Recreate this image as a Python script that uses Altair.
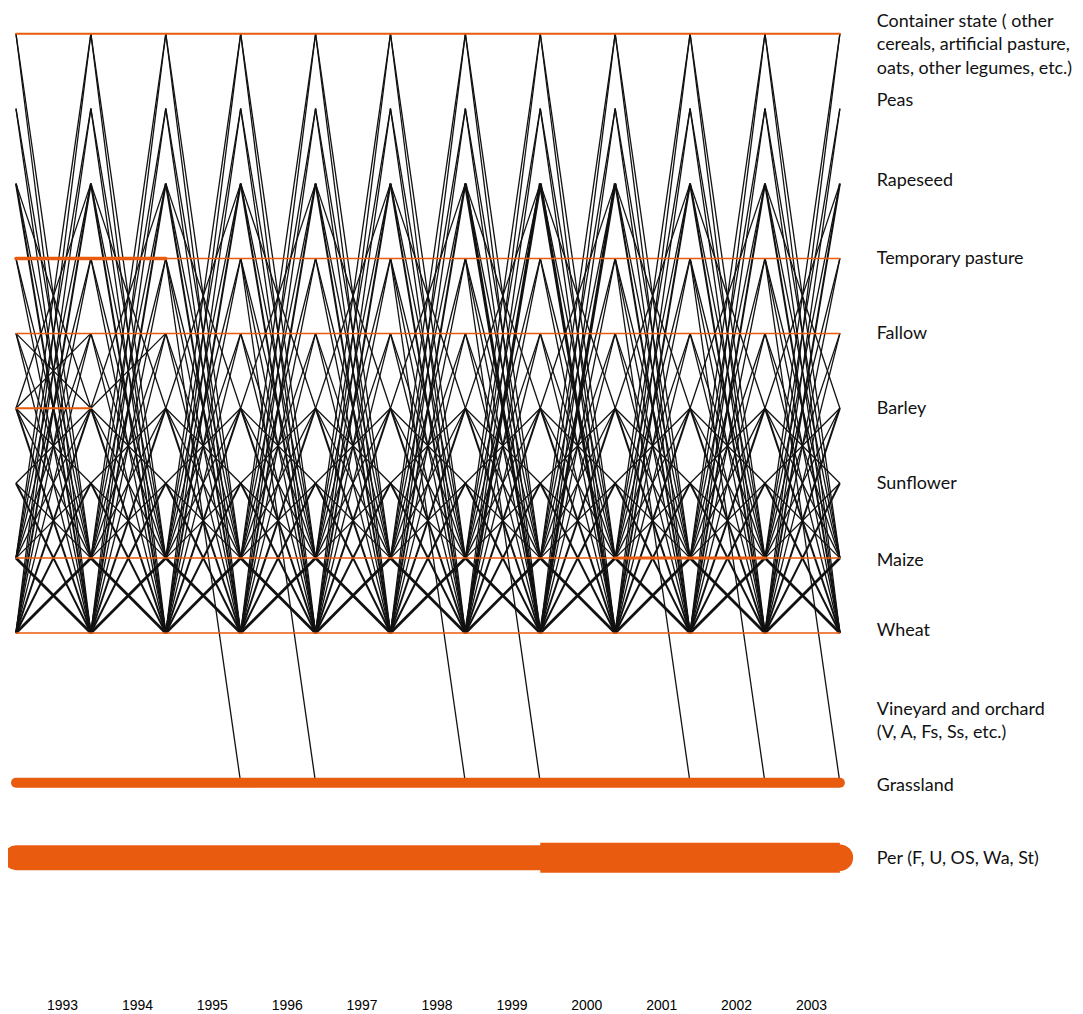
import altair as alt
import pandas as pd

# ---------------- data ----------------
years = list(range(1992, 2004))

states = ["Container", "Peas", "Rapeseed", "TempPasture", "Fallow", "Barley",
          "Sunflower", "Maize", "Wheat", "Vineyard", "Grassland", "Per"]
state_labels = [
    "Container state ( other\ncereals, artificial pasture,\noats, other legumes, etc.)",
    "Peas", "Rapeseed", "Temporary pasture", "Fallow", "Barley", "Sunflower",
    "Maize", "Wheat", "Vineyard and orchard\n(V, A, Fs, Ss, etc.)", "Grassland",
    "Per (F, U, OS, Wa, St)",
]

# transitions seen between every pair of consecutive years (from, to, weight)
gen_from = ["Wheat", "Maize", "Container", "Container",
            "Wheat", "Maize", "Peas", "Peas",
            "Wheat", "Maize", "Barley", "Rapeseed", "Rapeseed", "Rapeseed",
            "Wheat", "Maize", "TempPasture", "TempPasture",
            "Wheat", "Maize", "Fallow", "Fallow",
            "Wheat", "Maize", "Sunflower", "Barley", "Barley", "Barley",
            "Wheat", "Maize", "Sunflower", "Sunflower",
            "Wheat", "Maize"]
gen_to = ["Container", "Container", "Wheat", "Maize",
          "Peas", "Peas", "Wheat", "Maize",
          "Rapeseed", "Rapeseed", "Rapeseed", "Wheat", "Barley", "Maize",
          "TempPasture", "TempPasture", "Wheat", "Maize",
          "Fallow", "Fallow", "Wheat", "Maize",
          "Barley", "Barley", "Barley", "Wheat", "Maize", "Sunflower",
          "Sunflower", "Sunflower", "Wheat", "Maize",
          "Maize", "Wheat"]
gen_w = [1.3, 1.3, 1.3, 1.3,
         1.3, 1.3, 1.3, 1.3,
         2, 1.3, 1.3, 2, 1.3, 1.3,
         1.3, 1.3, 1.3, 1.3,
         1.3, 1.3, 1.3, 1.3,
         2, 1.3, 1.3, 2, 1.3, 1.3,
         2, 1.3, 2, 1.3,
         2.8, 2.8]

# rapeseed <-> wheat weight per interval (starting year 1992 ... 2002)
rape_w = [2, 2, 2, 2, 2, 2, 3, 3, 2, 2, 2]

# temporary pasture -> grassland, year of arrival
tp_grass_years = [1995, 1996, 1998, 1999, 2001, 2002, 2003]

# extra transitions (start year, from, to)
extra_year = [1992, 1993, 1992]
extra_from = ["Barley", "Barley", "Fallow"]
extra_to = ["Fallow", "Fallow", "Barley"]

# same state kept (orange): state, start year, end year, weight
stay_state = ["Container", "TempPasture", "TempPasture", "Fallow", "Barley",
              "Maize", "Maize", "Maize", "Wheat", "Grassland", "Per"]
stay_start = [1992, 1992, 1994, 1992, 1992, 1992, 2000, 2002, 1992, 1992, 1992]
stay_end = [2003, 1994, 2003, 2003, 1993, 2000, 2002, 2003, 2003, 2003, 2003]
stay_w = [2, 3.5, 1.5, 1.5, 2, 1.5, 3, 1.5, 1.5, 10, 25]
per_thick_start, per_thick_end, per_thick_w = 1999, 2003, 30

# ---------------- build tables ----------------
idx = {s: i for i, s in enumerate(states)}

rows = []
k = 0


def add(y0, a, b, w):
    global k
    rows.append({"id": k, "year": y0, "s": idx[a], "w": w})
    rows.append({"id": k, "year": y0 + 1, "s": idx[b], "w": w})
    k += 1


for i, y0 in enumerate(years[:-1]):
    for a, b, w in zip(gen_from, gen_to, gen_w):
        if {a, b} == {"Rapeseed", "Wheat"}:
            w = rape_w[i]
        add(y0, a, b, w)
for y1 in tp_grass_years:
    add(y1 - 1, "TempPasture", "Grassland", 1.3)
for y0, a, b in zip(extra_year, extra_from, extra_to):
    add(y0, a, b, 1.3)
trans = pd.DataFrame(rows)

srows = []
for j, (s, a, b, w) in enumerate(zip(stay_state, stay_start, stay_end, stay_w)):
    srows.append({"id": j, "year": a, "s": idx[s], "w": w})
    srows.append({"id": j, "year": b, "s": idx[s], "w": w})
stays = pd.DataFrame(srows)
per_thick = pd.DataFrame({"id": [0, 0], "year": [per_thick_start, per_thick_end],
                          "s": [idx["Per"]] * 2, "w": [per_thick_w] * 2})
per_end = pd.DataFrame({"year": [per_thick_end], "s": [idx["Per"]]})

labels = pd.DataFrame({"key": states, "label": state_labels,
                       "s": list(range(len(states))), "year": [years[-1]] * len(states)})

# ---------------- chart ----------------
ORANGE = "#E95B0F"
xs = alt.Scale(domain=[years[0], years[-1]], nice=False, zero=False)
ys = alt.Scale(domain=[0, len(states) - 1], reverse=True, nice=False, zero=False)
X = alt.X("year:Q", scale=xs, title=None,
          axis=alt.Axis(values=years, format="d", domain=False, ticks=False, grid=False,
                        labelOffset=-29, offset=141, labelPadding=0, labelFlush=False,
                        labelOverlap=False, labelBound=False,
                        labelFont="Liberation Sans", labelFontSize=14, labelColor="#000"))
Y = alt.Y("s:Q", scale=ys, axis=None)

black = alt.Chart(trans).mark_line(color="#111111", strokeCap="butt").encode(
    x=X, y=Y, detail="id:N", order="year:Q",
    strokeWidth=alt.StrokeWidth("w:Q", scale=None, legend=None))

orange = alt.Chart(stays).mark_line(color=ORANGE, strokeCap="round").encode(
    x=X, y=Y, detail="id:N", order="year:Q",
    strokeWidth=alt.StrokeWidth("w:Q", scale=None, legend=None))

orange2 = alt.Chart(per_thick).mark_line(color=ORANGE, strokeCap="butt").encode(
    x=X, y=Y, detail="id:N", order="year:Q",
    strokeWidth=alt.StrokeWidth("w:Q", scale=None, legend=None))

orange_end = alt.Chart(per_end).mark_circle(color=ORANGE, opacity=1, size=707).encode(x=X, y=Y)

FONT = "Lato"


def text_layer(keys, dy):
    return alt.Chart(labels).transform_filter(
        alt.FieldOneOfPredicate(field="key", oneOf=keys)
    ).mark_text(align="left", baseline="middle", dx=37, dy=dy, font=FONT, fontSize=18,
                lineHeight=23.5, lineBreak="\n", color="#111").encode(
        x=X, y=Y, text="label:N")


texts = [
    text_layer(["TempPasture", "Fallow", "Barley", "Sunflower"], 1),
    text_layer(["Container"], -12),
    text_layer(["Peas"], -8),
    text_layer(["Rapeseed"], -3),
    text_layer(["Vineyard"], 2),
    text_layer(["Maize"], 3),
    text_layer(["Wheat"], -2),
    text_layer(["Grassland"], 3),
    text_layer(["Per"], 1),
]

chart = alt.layer(black, orange, orange2, orange_end, *texts).properties(
    width=827, height=827,
    background="white",
    autosize=alt.AutoSizeParams(type="none"),
    padding={"left": 8, "top": 24, "right": 236, "bottom": 158},
).configure_view(stroke=None)

chart.save("out.html", embed_options={"renderer": "svg", "actions": False})
